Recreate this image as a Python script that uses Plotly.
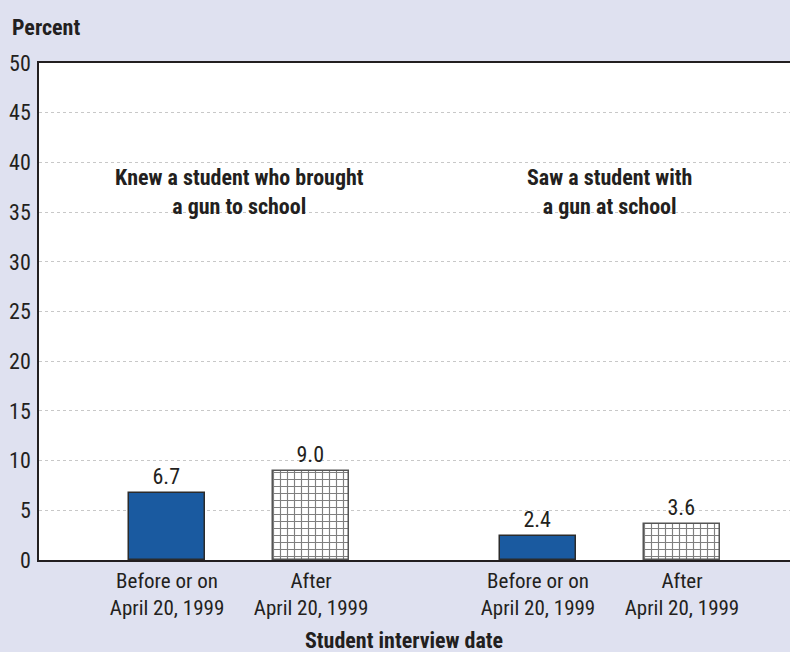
import plotly.graph_objects as go

# ---- data ----
groups = ["Knew a student who brought<br>a gun to school", "Saw a student with<br>a gun at school"]
periods = ["Before or on<br>April 20, 1999", "After<br>April 20, 1999"]
before_vals = [6.7, 2.4]
after_vals = [9.0, 3.6]
y_ticks = [0, 5, 10, 15, 20, 25, 30, 35, 40, 45, 50]

# ---- layout constants ----
GROUP_STEP = 2.576
BAR_W = 0.528
FONT = "Liberation Sans Narrow, Arial Narrow, Roboto Condensed, sans-serif"
TXT = "#231f20"
BG = "#dfe1f0"
BLUE = "#1a5aa0"

x_before = [g * GROUP_STEP for g in range(len(groups))]
x_after = [g * GROUP_STEP + 1 for g in range(len(groups))]

fig = go.Figure()
fig.add_trace(go.Bar(
    x=x_before, y=before_vals, width=BAR_W,
    marker=dict(color=BLUE, line=dict(color="#2b2b2b", width=1.5)),
    texttemplate="%{y:.1f}", textposition="outside",
    textfont=dict(family=FONT, size=22, color=TXT),
    cliponaxis=False, showlegend=False, hoverinfo="skip",
))
fig.add_trace(go.Bar(
    x=x_after, y=after_vals, width=BAR_W,
    marker=dict(color="white", line=dict(color="#555555", width=1.5),
                pattern=dict(shape="+", fgcolor="#000000", bgcolor="white",
                             size=7, solidity=0.3)),
    texttemplate="%{y:.1f}", textposition="outside",
    textfont=dict(family=FONT, size=22, color=TXT),
    cliponaxis=False, showlegend=False, hoverinfo="skip",
))

tick_x = []
tick_t = []
for g in range(len(groups)):
    tick_x += [x_before[g], x_after[g]]
    tick_t += periods

fig.update_layout(
    width=790, height=652,
    paper_bgcolor=BG, plot_bgcolor="white",
    margin=dict(l=39, r=0, t=63, b=92),
    font=dict(family=FONT, size=22, color=TXT),
    bargap=0,
    xaxis=dict(
        range=[-0.889, 4.326], tickmode="array", tickvals=tick_x, ticktext=tick_t,
        showgrid=False, zeroline=False, showline=True, mirror=True,
        linecolor=TXT, linewidth=1.5, ticks="outside", ticklen=1,
        tickcolor="rgba(0,0,0,0)",
        tickfont=dict(family=FONT, size=21, color=TXT),
    ),
    yaxis=dict(
        range=[0, 50], tickmode="array", tickvals=y_ticks,
        showgrid=True, gridcolor="#c8c8c8", griddash="dot", gridwidth=1,
        zeroline=False, showline=True, linecolor=TXT, linewidth=1.5,
        ticks="outside", ticklen=2, tickcolor="rgba(0,0,0,0)",
        tickfont=dict(family=FONT, size=22, color=TXT),
    ),
)

annots = [
    dict(text="<b>Percent</b>", xref="paper", yref="paper", x=-0.0386, y=1.072,
         xanchor="left", yanchor="middle", showarrow=False,
         font=dict(family=FONT, size=22, color=TXT)),
    dict(text="<b>Student interview date</b>", xref="paper", yref="paper",
         x=0.486, y=-0.161, xanchor="center", yanchor="middle", showarrow=False,
         font=dict(family=FONT, size=22, color=TXT)),
]
group_label_x = [0.5, GROUP_STEP + 0.5]
for g, lab in enumerate(groups):
    annots.append(dict(text="<b>" + lab + "</b>", x=group_label_x[g], y=37.0,
                       xref="x", yref="y", showarrow=False,
                       xanchor="center", yanchor="middle", align="center",
                       font=dict(family=FONT, size=22, color=TXT)))
fig.update_layout(annotations=annots)

fig.write_html("out.html", config={"displayModeBar": False},
               post_script="document.body.style.margin='0';document.body.style.padding='0';")
